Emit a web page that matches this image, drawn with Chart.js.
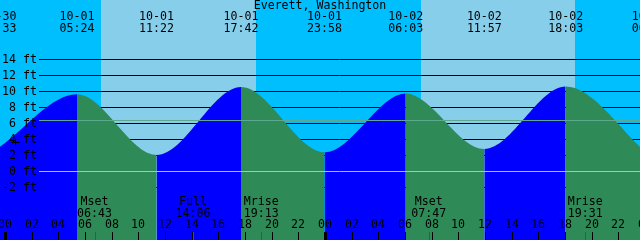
<!DOCTYPE html>
<html>
<head>
<meta charset="utf-8">
<script src="https://cdn.jsdelivr.net/npm/chart.js@4"></script>
<style>
  body { margin: 0; background: #00bfff; }
  canvas { display: block; }
</style>
</head>
<body>
<canvas id="tideChart" width="640" height="240"></canvas>
<script>
// tide extremes (high / low), local time
const tideTimes = ["09-30 23:33", "10-01 05:24", "10-01 11:22", "10-01 17:42", "10-01 23:58",
                   "10-02 06:03", "10-02 11:57", "10-02 18:03", "10-03 00:19"];
const tideLevels = [2.95, 9.6, 2.0, 10.5, 2.33, 9.7, 2.75, 10.55, 1.95];

const sunriseTimes = ["10-01 07:12", "10-02 07:12"];
const sunsetTimes = ["10-01 18:50", "10-02 18:45"];

const moonNames = ["Mset", "Full", "Mrise", "Mset", "Mrise"];
const moonTimes = ["10-01 06:43", "10-01 14:06", "10-01 19:13", "10-02 07:47", "10-02 19:31"];

const levelTicks = [-2, 0, 2, 4, 6, 8, 10, 12, 14];
const hourLabels = ["00", "02", "04", "06", "08", "10", "12", "14", "16", "18", "20", "22",
                    "00", "02", "04", "06", "08", "10", "12", "14", "16", "18", "20", "22", "00"];

const meanLevel = 6.33;
const markTime = "10-01 00:45";
const markLevel = 3.67;

const title = "Everett, Washington";
const FONT = '11.6px "DejaVu Sans Mono"';

const dayIndex = { "09-30": -1, "10-01": 0, "10-02": 1, "10-03": 2 };
function toHours(s) {
  const [md, hm] = s.split(" ");
  const [h, m] = hm.split(":").map(Number);
  return dayIndex[md] * 24 + h + m / 60;
}

const tidePoints = tideTimes.map((t, i) => ({ x: toHours(t), y: tideLevels[i] }));

const skyBands = {
  id: "skyBands",
  beforeDatasetsDraw(chart) {
    const { ctx, scales: { x, y } } = chart;
    ctx.save();
    ctx.fillStyle = "#00bfff";
    ctx.fillRect(0, 0, chart.width, chart.height);
    ctx.fillStyle = "#87ceeb";
    sunriseTimes.forEach((t, i) => {
      const x0 = Math.round(x.getPixelForValue(toHours(t)));
      const x1 = Math.round(x.getPixelForValue(toHours(sunsetTimes[i])));
      ctx.fillRect(x0, 0, x1 - x0, chart.height);
    });
    // level lines, hidden by the water
    ctx.strokeStyle = "#000";
    ctx.lineWidth = 1;
    levelTicks.forEach((v) => {
      const py = Math.round(y.getPixelForValue(v)) + 0.5;
      ctx.beginPath();
      ctx.moveTo(39, py);
      ctx.lineTo(chart.width, py);
      ctx.stroke();
    });
    ctx.restore();
  },
};

const overlay = {
  id: "overlay",
  afterDatasetsDraw(chart) {
    const { ctx, scales: { x, y } } = chart;
    const W = chart.width;
    ctx.save();

    // mean level and datum lines
    const hline = (v, color) => {
      const py = Math.round(y.getPixelForValue(v)) + 0.5;
      ctx.strokeStyle = color;
      ctx.beginPath();
      ctx.moveTo(39, py);
      ctx.lineTo(W, py);
      ctx.stroke();
    };
    ctx.lineWidth = 1;
    hline(meanLevel, "#5fa890");
    hline(0, "#87ceeb");

    // current-time mark on the curve
    const mx = Math.round(x.getPixelForValue(toHours(markTime))) + 0.5;
    const my = Math.round(y.getPixelForValue(markLevel)) + 0.5;
    ctx.strokeStyle = "#000";
    ctx.beginPath();
    ctx.moveTo(mx - 4, my);
    ctx.lineTo(mx + 4, my);
    ctx.moveTo(mx, my - 4);
    ctx.lineTo(mx, my + 4);
    ctx.stroke();

    ctx.font = FONT;
    ctx.fillStyle = "#000";
    ctx.textBaseline = "middle";

    // level labels
    ctx.textAlign = "right";
    levelTicks.forEach((v) => {
      ctx.fillText(v + " ft", 37, Math.round(y.getPixelForValue(v)) + 0.5);
    });

    // title and tide times
    ctx.textAlign = "center";
    ctx.fillText(title, W / 2, 6);
    tideTimes.forEach((t) => {
      const px = x.getPixelForValue(toHours(t));
      const [md, hm] = t.split(" ");
      ctx.fillText(md, px, 17);
      ctx.fillText(hm, px, 29);
    });

    // hour ticks
    hourLabels.forEach((lab, i) => {
      const px = Math.round(x.getPixelForValue(i * 2));
      ctx.fillText(lab, px, 225);
      if (lab === "00") ctx.fillRect(px - 1, 232, 3, 8);
      else ctx.fillRect(px, 232, 1, 8);
    });

    // moon events
    moonTimes.forEach((t, i) => {
      const px = x.getPixelForValue(toHours(t));
      ctx.fillStyle = "#000";
      ctx.fillText(moonNames[i], px, 202);
      ctx.fillText(t.split(" ")[1], px, 214);
      ctx.fillStyle = "#505050";
      ctx.fillRect(Math.round(px), 232, 1, 8);
    });
    ctx.restore();
  },
};

new Chart(document.getElementById("tideChart"), {
  type: "line",
  data: {
    datasets: [
      {
        data: tidePoints,
        cubicInterpolationMode: "monotone",
        pointRadius: 0,
        pointHitRadius: 0,
        borderWidth: 0,
        borderColor: "rgba(0,0,0,0)",
        backgroundColor: "#0000ff",
        fill: "start",
        segment: {
          backgroundColor: (c) => (c.p1.parsed.y > c.p0.parsed.y ? "#0000ff" : "#2e8b57"),
        },
      },
    ],
  },
  options: {
    responsive: false,
    animation: false,
    layout: { padding: 0, autoPadding: false },
    plugins: { legend: { display: false }, tooltip: { enabled: false } },
    scales: {
      x: { type: "linear", min: -0.375, max: 47.625, display: false },
      y: { min: -8.625, max: 21.375, display: false },
    },
  },
  plugins: [skyBands, overlay],
});
</script>
</body>
</html>
